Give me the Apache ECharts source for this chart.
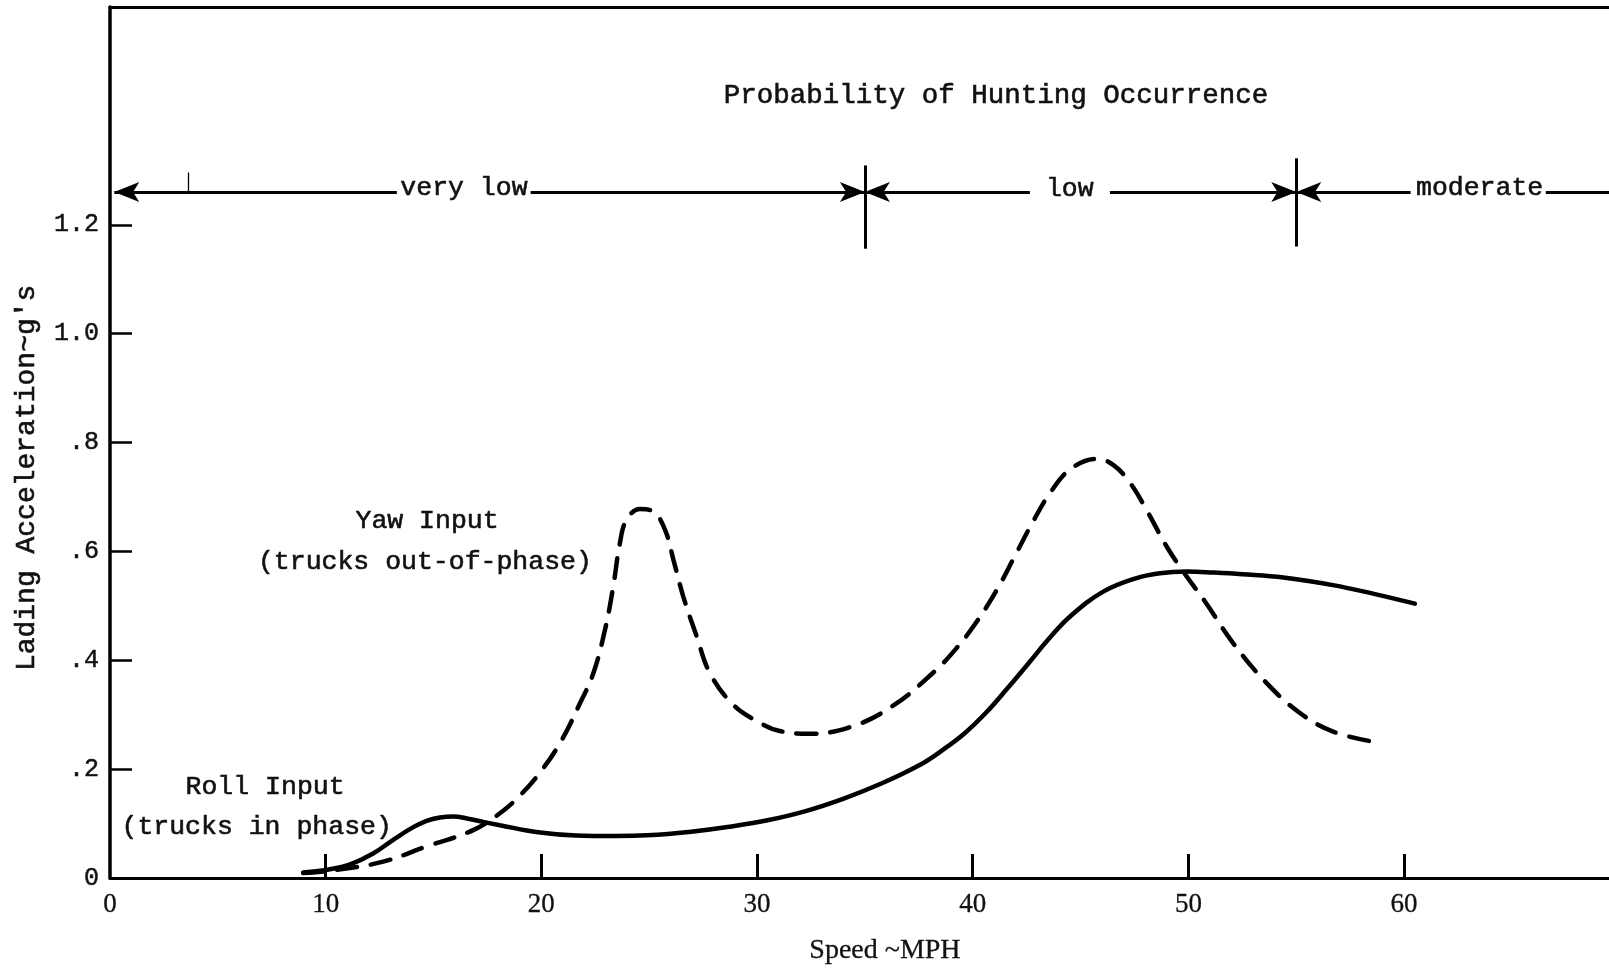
<!DOCTYPE html>
<html><head><meta charset="utf-8">
<script src="https://cdn.jsdelivr.net/npm/echarts@6/dist/echarts.min.js"></script>
<style>html,body{margin:0;padding:0;background:#fff}#c{width:1609px;height:968px}</style>
</head><body><div id="c"></div>
<script>
// ---- data (speed in MPH, lading acceleration in g's) ----
const rollInput = [
  [8.96,0.010],[10.2,0.016],[11.13,0.025],[12.2,0.045],[13.13,0.070],[14.0,0.092],[14.68,0.105],
  [15.3,0.111],[15.92,0.113],[16.6,0.109],[17.31,0.103],[18.08,0.097],[19.85,0.084],[21.62,0.078],
  [23.39,0.077],[25.16,0.079],[26.94,0.085],[28.71,0.094],[30.48,0.106],[32.25,0.123],[34.02,0.146],
  [35.79,0.174],[37.56,0.208],[38.6,0.235],[39.6,0.265],[40.6,0.303],[41.6,0.348],[42.6,0.395],
  [43.5,0.438],[44.5,0.480],[46.05,0.526],[47.6,0.551],[48.68,0.560],[49.92,0.563],[51.2,0.561],
  [52.5,0.558],[54.4,0.552],[56.7,0.538],[58.6,0.522],[60.5,0.504]
];
const yawInput = [
  [8.96,0.009],[10.5,0.015],[12.67,0.030],[14.68,0.058],[16.84,0.088],[18.08,0.119],[18.97,0.150],
  [19.94,0.194],[20.91,0.251],[21.79,0.321],[22.41,0.376],[22.95,0.456],[23.33,0.535],[23.64,0.615],
  [23.95,0.658],[24.57,0.678],[25.19,0.673],[25.73,0.640],[26.12,0.585],[26.58,0.517],[27.2,0.444],
  [27.82,0.376],[28.9,0.318],[30.0,0.288],[31.05,0.270],[32.45,0.265],[34.38,0.278],[36.29,0.316],
  [38.19,0.378],[39.2,0.420],[40.1,0.466],[41.1,0.528],[42.0,0.595],[42.8,0.655],[43.58,0.707],
  [44.5,0.750],[45.74,0.770],[46.51,0.759],[47.29,0.726],[48.06,0.676],[48.99,0.609],[49.76,0.563],
  [50.8,0.506],[52.08,0.431],[53.63,0.358],[55.17,0.303],[56.71,0.269],[58.49,0.251]
];
const xTickValues = [10,20,30,40,50,60];
const xLabelValues = [0,10,20,30,40,50,60];
const yTickValues = [0.2,0.4,0.6,0.8,1.0,1.2];
const yLabelValues = [0,0.2,0.4,0.6,0.8,1.0,1.2];
const yLabelTexts = ['0','.2','.4','.6','.8','1.0','1.2'];
const zoneBounds = [35, 55];
const zoneNames = ['very low','low','moderate'];
const titleText = 'Probability of Hunting Occurrence';
const xAxisTitle = 'Speed ~MPH';
const yAxisTitle = "Lading Acceleration~g's";
const seriesNames = ['Roll Input','Yaw Input'];
const seriesNotes = ['(trucks in phase)','(trucks out-of-phase)'];

// ---- layout / annotation placement (data coordinates) ----
const arrowY = 1.26;
const barLow = [1.156, 1.16], barHigh = [1.309, 1.322];
const segs = [ // [from, to, arrowAtFrom, arrowAtTo]
  [0.2, 13.3, true, false], [19.5, zoneBounds[0], false, true],
  [zoneBounds[0], 42.65, true, false], [46.36, zoneBounds[1], false, true],
  [zoneBounds[1], 60.3, true, false], [66.57, 69.5, false, false]
];
const TYPE = 'Liberation Mono, Courier New, monospace';
const SERIF = 'Liberation Serif, Times New Roman, serif';
const INK = '#111';

const chart = echarts.init(document.getElementById('c'), null, {renderer:'canvas'});
const arrowEnd = (x, on) => on
  ? {coord:[x, arrowY], symbol:'arrow', symbolSize:[15,25]}
  : {coord:[x, arrowY], symbol:'none'};
const mlData = segs.map(s => [arrowEnd(s[0], s[2]), arrowEnd(s[1], s[3])]);
zoneBounds.forEach((b, i) => mlData.push([
  {coord:[b, barLow[i]], symbol:'none'}, {coord:[b, barHigh[i]], symbol:'none'}]));
mlData.push([{coord:[3.62,1.259], symbol:'none', lineStyle:{width:1.3}}, {coord:[3.62,1.296], symbol:'none'}]);

const labelInk = {color:INK, textBorderColor:INK, textBorderWidth:0.5};
chart.setOption({
  animation:false,
  backgroundColor:'#fff',
  grid:{left:110, right:0, top:7, bottom:90, containLabel:false},
  xAxis:[{
    type:'value', min:0, max:69.5, position:'bottom',
    axisLine:{show:true, onZero:false, lineStyle:{color:'#000', width:3}},
    axisTick:{show:true, inside:true, length:24, customValues:xTickValues, lineStyle:{color:'#000', width:3}},
    axisLabel:Object.assign({show:true, customValues:xLabelValues, margin:13,
      fontFamily:SERIF, fontSize:27}, labelInk, {textBorderWidth:0.3}),
    splitLine:{show:false}
  },{
    type:'value', min:0, max:69.5, position:'top',
    axisLine:{show:true, onZero:false, lineStyle:{color:'#000', width:3}},
    axisTick:{show:false}, axisLabel:{show:false}, splitLine:{show:false}
  }],
  yAxis:{
    type:'value', min:0, max:1.6, interval:0.2,
    axisLine:{show:true, onZero:false, lineStyle:{color:'#000', width:3.5}},
    axisTick:{show:true, inside:true, length:22, customValues:yTickValues, lineStyle:{color:'#000', width:2.5}},
    axisLabel:Object.assign({show:true, customValues:yLabelValues, margin:11,
      fontFamily:TYPE, fontSize:25,
      formatter:(v)=>{const i=yLabelValues.findIndex(t=>Math.abs(t-v)<1e-6);return i>=0?yLabelTexts[i]:'';}}, labelInk),
    splitLine:{show:false}
  },
  series:[{
    name:seriesNames[0], type:'line', data:rollInput, smooth:0.4, showSymbol:false,
    lineStyle:{color:'#000', width:4.5, cap:'round'},
    markLine:{silent:true, animation:false, symbol:['none','none'],
      lineStyle:{color:'#000', width:3, type:'solid'}, label:{show:false}, data:mlData}
  },{
    name:seriesNames[1], type:'line', data:yawInput, smooth:0.4, showSymbol:false,
    lineStyle:{color:'#000', width:4.5, type:[20,14], cap:'round'}
  }]
});

const texts = [
  {t:titleText, at:[41.08,1.4366], font:TYPE, size:27.5},
  {t:zoneNames[0], at:[16.41,1.268], font:TYPE, size:26.5},
  {t:zoneNames[1], at:[44.5,1.265], font:TYPE, size:26.5},
  {t:zoneNames[2], at:[63.5,1.268], font:TYPE, size:26.5},
  {t:seriesNames[1], at:[14.7,0.656], font:TYPE, size:26.5},
  {t:seriesNotes[1], at:[14.6,0.581], font:TYPE, size:26.5},
  {t:seriesNames[0], at:[7.19,0.167], font:TYPE, size:26.5},
  {t:seriesNotes[0], at:[6.8,0.094], font:TYPE, size:26.5},
  {t:xAxisTitle, at:[35.93,-0.134], font:SERIF, size:28, bw:0.3},
  {t:yAxisTitle, at:[-3.85,0.735], font:TYPE, size:28, rot:Math.PI/2}
];
const gfx = texts.map(o => {
  const p = chart.convertToPixel({xAxisIndex:0, yAxisIndex:0}, o.at);
  return {type:'text', x:p[0], y:p[1], rotation:o.rot||0, silent:true,
    style:{text:o.t, fontFamily:o.font, fontSize:o.size, fill:INK, stroke:INK,
      lineWidth:o.bw==null?0.6:o.bw, align:'center', verticalAlign:'middle'}};
});
chart.setOption({graphic:gfx});
</script></body></html>
